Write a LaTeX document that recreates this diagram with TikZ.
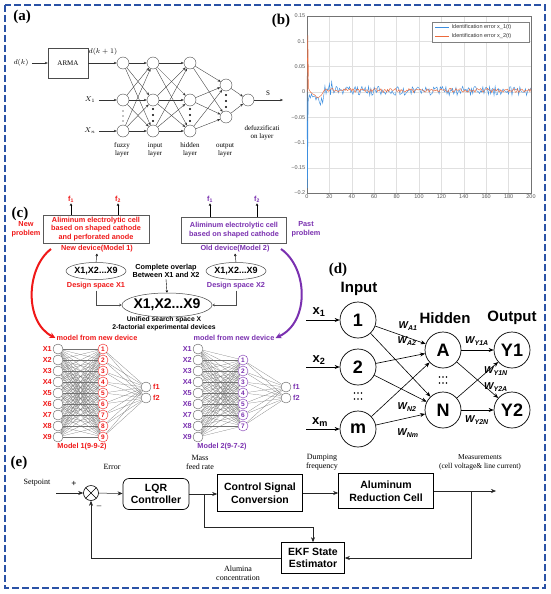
\documentclass[tikz,border=0pt]{standalone}
\usepackage{fontspec}
\setmainfont{Liberation Serif}
\setsansfont{Liberation Sans}
\newfontfamily\lsans{Liberation Sans}
\usetikzlibrary{arrows.meta,shapes.geometric,calc}
\definecolor{myred}{HTML}{F01818}
\definecolor{mypurple}{HTML}{7A30B0}
\definecolor{borderblue}{HTML}{2A52A6}
\definecolor{plotblue}{HTML}{3D8FE0}
\definecolor{plotorange}{HTML}{EC6A3C}
\newcommand{\fsz}[2]{\fontsize{#1}{#2}\selectfont}
\begin{document}
\begin{tikzpicture}[x=1pt,y=-1pt,
  aedge/.style={-{Stealth[length=3pt,width=2.4pt]}, line width=0.35pt, black!80},
  acirc/.style={circle, draw=black!70, line width=0.4pt, minimum size=12pt, inner sep=0pt},
  atext/.style={font=\fsz{7}{8}, align=center},
  plab/.style={font=\bfseries\fsz{15}{16}},
  ticklab/.style={font=\lsans\fsz{5.5}{6}, text=black!65, inner sep=1.5pt},
  ctext/.style={font=\sffamily\bfseries\fsz{7.3}{8.5}, align=center, inner sep=1pt},
  nin/.style={circle, draw=black!70, line width=0.35pt, minimum size=10pt, inner sep=0pt},
  nhid/.style={circle, draw=#1, line width=0.4pt, minimum size=10pt, inner sep=0pt, text=#1, font=\sffamily\bfseries\fsz{6.5}{7}},
  nedge/.style={black!55, line width=0.2pt},
  smallarr/.style={-{Stealth[length=2.5pt,width=2.5pt]}, line width=0.4pt},
  dcirc/.style={circle, draw, line width=0.7pt, minimum size=36pt, inner sep=0pt, font=\sffamily\bfseries\fsz{18}{20}},
  dedge/.style={-{Stealth[length=5pt,width=4pt]}, line width=0.6pt},
  wlab/.style={font=\sffamily\bfseries\itshape\fsz{10}{11}, inner sep=0pt},
  ebox/.style={draw, line width=0.7pt, align=center, font=\sffamily\bfseries\fsz{10.5}{12.5}},
  etext/.style={font=\fsz{8}{9}, align=center},
  earrow/.style={-{Stealth[length=5pt,width=4pt]}, line width=0.5pt, black!85}
]
\useasboundingbox (0,0) rectangle (550,594);
\fill[white] (0,0) rectangle (550,594);
% border
\draw[borderblue, line width=1.6pt, dash pattern=on 7pt off 3pt] (5,5) rectangle (545,588);

% ================= (a) =================
\node[plab] (la) at (22,17) {(a)};
\node[draw=black!70, line width=0.4pt, minimum width=40pt, minimum height=30pt, atext] (arma) at (68,63) {ARMA};
\node[atext] (dk) at (21,63) {$d(k)$};
\node[atext] (dk1) at (103,52) {$d(k+1)$};
\draw[aedge] (dk) -- (arma);
\foreach \n/\yy in {1/63,2/100,3/131} {
  \node[acirc] (af\n) at (123,\yy) {};
  \node[acirc] (ai\n) at (153,\yy) {};
  \node[acirc] (ah\n) at (190,\yy) {};
}
\node[acirc] (ao1) at (226,85) {};
\node[acirc] (ao2) at (226,117) {};
\node[acirc] (ad) at (248,100) {};
\draw[aedge] (arma) -- (af1);
\node[atext] (ax1) at (90,100) {$X_1$};
\node[atext] (axn) at (90,131) {$X_n$};
\draw[aedge] (ax1) -- (af2);
\draw[aedge] (axn) -- (af3);
\foreach \a in {1,2,3} \foreach \b in {1,2,3} {
  \draw[aedge] (af\a) -- (ai\b);
  \draw[aedge] (ai\a) -- (ah\b);
}
\foreach \a in {1,2,3} \foreach \b in {1,2} \draw[aedge] (ah\a) -- (ao\b);
\draw[aedge] (ao1) -- (ad);
\draw[aedge] (ao2) -- (ad);
\coordinate (aS) at (283,100);
\draw[aedge] (ad) -- (aS);
\node[atext] at (268,93) {S};
\foreach \yy in {111,116,121} \fill (123,\yy) circle (0.55);
\foreach \yy in {109,115,121} { \fill (153,\yy) circle (1.1); \fill (190,\yy) circle (1.1); }
\foreach \yy in {95,101,107} \fill (226,\yy) circle (1.1);
\node[atext] at (122,150) {fuzzy\\layer};
\node[atext] at (155,150) {input\\layer};
\node[atext] at (190,150) {hidden\\layer};
\node[atext] at (225,150) {output\\layer};
\node[atext] at (262,133) {defuzzificati\\on layer};

% ================= (b) =================
\node[plab] (lb) at (281,21) {(b)};
\begin{scope}[shift={(307pt,-91.9pt)}, x=1.12pt, y=505.7pt]
  \foreach \t in {20,40,...,180} \draw[black!12, line width=0.3pt] (\t,-0.2) -- (\t,0.15);
  \foreach \v in {-0.15,-0.1,-0.05,0,0.05,0.1} \draw[black!12, line width=0.3pt] (0,\v) -- (200,\v);
  \draw[black!55, line width=0.4pt] (0,-0.2) rectangle (200,0.15);
  \foreach \t in {0,20,...,200} \node[ticklab, anchor=north] at (\t,-0.2) {\t};
  \foreach \v/\l in {0.15/0.15,0.1/0.1,0.05/0.05,0/0,-0.05/−0.05,-0.1/−0.1,-0.15/−0.15,-0.2/−0.2}
    \node[ticklab, anchor=east] at (0,\v) {\l};
  \pgfmathsetseed{7}
  \draw[plotblue, line width=0.45pt] (0,0) -- (0.4,-0.19) -- (1,-0.02) -- (2,-0.006) -- (3,-0.012) -- (4,-0.004) -- (5,-0.01) -- (7,-0.008) -- (8,-0.016) -- (9,-0.01) -- (10,-0.012) -- (11,-0.02) -- (12,-0.026) -- (13,-0.012) -- (14,-0.022) -- (15,-0.006) -- (16,0.012) -- (17,-0.004) -- (18,0.006) -- (19,0.004) -- (20,0.016) -- (21,-0.006) -- (22,0.02)
    -- plot[domain=23:200, samples=178] (\x,{0.009*rand+0.002});
  \draw[plotorange, line width=0.45pt] (0,0) -- (0.7,0.112) -- (1.5,0.006) -- (3,0) -- (5,-0.004) -- (7,-0.006) -- (9,-0.012) -- (11,-0.01) -- (13,-0.006) -- (15,0.002) -- (17,0.006) -- (19,0.001) -- (21,0.005)
    -- plot[domain=22:200, samples=179] (\x,{0.004*rand+0.003});
\end{scope}
\draw[fill=white, draw=black!50, line width=0.3pt] (432,22) rectangle (529,42);
\draw[plotblue, line width=0.5pt] (435,27.5) -- (449,27.5);
\draw[plotorange, line width=0.5pt] (435,36) -- (449,36);
\node[ticklab, text=black!80, anchor=west] at (450,27.5) {Identification error x\_1(t)};
\node[ticklab, text=black!80, anchor=west] at (450,36) {Identification error x\_2(t)};

% ================= (c) =================
\node[plab] (lc) at (20,214) {(c)};
\node[draw=black!65, line width=0.6pt, minimum width=106pt, minimum height=28pt, text=myred, ctext] (rbox) at (96,229) {Aliminum electrolytic cell\\based on shaped cathode\\and perforated anode};
\node[draw=black!65, line width=0.6pt, minimum width=105pt, minimum height=26pt, text=mypurple, ctext] (pbox) at (234,230) {Aliminum electrolytic cell\\based on shaped cathode};
\node[ctext, text=myred] (rf1) at (71,199) {f\textsubscript{1}};
\node[ctext, text=myred] (rf2) at (118,199) {f\textsubscript{2}};
\node[ctext, text=mypurple] (pf1) at (210,199) {f\textsubscript{1}};
\node[ctext, text=mypurple] (pf2) at (257,199) {f\textsubscript{2}};
\draw[smallarr] (rbox.north -| rf1) -- (rf1.south);
\draw[smallarr] (rbox.north -| rf2) -- (rf2.south);
\draw[smallarr] (pbox.north -| pf1) -- (pf1.south);
\draw[smallarr] (pbox.north -| pf2) -- (pf2.south);
\node[ctext, text=myred] at (26,229) {New\\problem};
\node[ctext, text=mypurple] at (306,229) {Past\\problem};
\node[ctext, text=myred] (nd) at (97,249) {New device(Model 1)};
\node[ctext, text=mypurple] (od) at (235,249) {Old device(Model 2)};
\node[ellipse, draw=black!70, line width=0.5pt, minimum width=60pt, minimum height=17pt, inner sep=0pt] (e1) at (96,271) {};
\node[font=\sffamily\bfseries\fsz{9}{9}] at (e1) {X1,X2...X9};
\node[ellipse, draw=black!70, line width=0.5pt, minimum width=60pt, minimum height=17pt, inner sep=0pt] (e2) at (236,271) {};
\node[font=\sffamily\bfseries\fsz{9}{9}] at (e2) {X1,X2...X9};
\draw[smallarr] (e1.north) -- (nd.south);
\draw[smallarr] (e2.north) -- (od.south);
\node[ctext, text=myred] (ds1) at (96,286) {Design space X1};
\node[ctext, text=mypurple] (ds2) at (236,286) {Design space X2};
\node[ctext] (ovl) at (166,271) {Complete overlap\\Between X1 and X2};
\node[ellipse, draw=black!70, line width=0.5pt, minimum width=90pt, minimum height=24pt, inner sep=0pt] (big) at (167,305) {};
\node[font=\sffamily\bfseries\fsz{14}{14}] at (big) {X1,X2...X9};
\draw[smallarr] (ovl.south) -- (big.north);
\draw[smallarr, black!70] (ds1.south) |- (big.west);
\draw[smallarr, black!70] (ds2.south) |- (big.east);
\node[ctext, font=\sffamily\bfseries\fsz{6.8}{8}] at (164,324) {Unified search space X\\2-factorial experimental devices};
% curved arrows
\coordinate (rstart) at (51,249);
\coordinate (pstart) at (281,249);
\node[ctext, text=myred] (mr) at (97,338) {model from new device};
\node[ctext, text=mypurple] (mp) at (234,338) {model from new device};
\draw[myred, line width=2pt, -{Stealth[length=6pt,width=6pt]}] (rstart) .. controls (26,268) and (24,322) .. (mr.west);
\draw[mypurple, line width=2pt, -{Stealth[length=6pt,width=6pt]}] (pstart) .. controls (308,268) and (310,322) .. (mp.east);
% left network
\foreach \i [evaluate=\i as \yy using {349+(\i-1)*11}] in {1,...,9} {
  \node[nin] (Li\i) at (58,\yy) {};
  \node[ctext, text=myred, anchor=east] at (53,\yy) {X\i};
  \node[nhid=myred] (Lh\i) at (103,\yy) {\i};
}
\node[nin] (Lo1) at (146,387) {};
\node[nin] (Lo2) at (146,398) {};
\node[ctext, text=myred, anchor=west] at (152,387) {f1};
\node[ctext, text=myred, anchor=west] at (152,398) {f2};
\foreach \i in {1,...,9} {
  \foreach \j in {1,...,9} \draw[nedge] (Li\i) -- (Lh\j);
  \draw[nedge] (Lh\i) -- (Lo1);
  \draw[nedge] (Lh\i) -- (Lo2);
}
\node[ctext, text=myred] at (82,447) {Model 1(9-9-2)};
% right network
\foreach \i [evaluate=\i as \yy using {349+(\i-1)*11}] in {1,...,9} {
  \node[nin] (Ri\i) at (198,\yy) {};
  \node[ctext, text=mypurple, anchor=east] at (193,\yy) {X\i};
}
\foreach \j [evaluate=\j as \yy using {360+(\j-1)*11}] in {1,...,7} {
  \node[nhid=mypurple] (Rh\j) at (243,\yy) {\j};
}
\node[nin] (Ro1) at (286,387) {};
\node[nin] (Ro2) at (286,398) {};
\node[ctext, text=mypurple, anchor=west] at (292,387) {f1};
\node[ctext, text=mypurple, anchor=west] at (292,398) {f2};
\foreach \i in {1,...,9} \foreach \j in {1,...,7} \draw[nedge] (Ri\i) -- (Rh\j);
\foreach \j in {1,...,7} { \draw[nedge] (Rh\j) -- (Ro1); \draw[nedge] (Rh\j) -- (Ro2); }
\node[ctext, text=mypurple] at (222,447) {Model 2(9-7-2)};

% ================= (d) =================
\node[plab] (ld) at (338,270) {(d)};
\node[font=\sffamily\bfseries\fsz{15}{15}] at (359,289) {Input};
\node[font=\sffamily\bfseries\fsz{15}{15}] at (445,318) {Hidden};
\node[font=\sffamily\bfseries\fsz{15}{15}] at (512,318) {Output};
\node[dcirc] (d1) at (358,320) {1};
\node[dcirc] (d2) at (358,367) {2};
\node[dcirc] (dm) at (358,429) {m};
\node[dcirc] (dA) at (443,350) {A};
\node[dcirc] (dN) at (443,410) {N};
\node[dcirc] (dY1) at (512,350) {Y1};
\node[dcirc] (dY2) at (512,410) {Y2};
\foreach \xx in {-3.5,0,3.5} {
  \fill (358+\xx,393) circle (0.9); \fill (358+\xx,399) circle (0.9);
  \fill (443+\xx,377) circle (0.9); \fill (443+\xx,383) circle (0.9);
}
\node[font=\sffamily\bfseries\fsz{13}{14}] (x1) at (319,312) {x\textsubscript{1}};
\node[font=\sffamily\bfseries\fsz{13}{14}] (x2) at (319,360) {x\textsubscript{2}};
\node[font=\sffamily\bfseries\fsz{13}{14}] (xm) at (320,422) {x\textsubscript{m}};
\coordinate (x1s) at (306,320);
\coordinate (x2s) at (306,367);
\coordinate (xms) at (306,429);
\draw[dedge] (x1s) -- (d1);
\draw[dedge] (x2s) -- (d2);
\draw[dedge] (xms) -- (dm);
\foreach \s in {d1,d2,dm} \foreach \t in {dA,dN} \draw[dedge] (\s) -- (\t);
\foreach \s in {dA,dN} \foreach \t in {dY1,dY2} \draw[dedge] (\s) -- (\t);
\node[wlab] at (408,326) {W\textsubscript{A1}};
\node[wlab] at (407,341) {W\textsubscript{A2}};
\node[wlab] at (407,407) {W\textsubscript{N2}};
\node[wlab] at (408,433) {W\textsubscript{Nm}};
\node[wlab] at (477,341) {W\textsubscript{Y1A}};
\node[wlab] at (496,371) {W\textsubscript{Y1N}};
\node[wlab] at (496,387) {W\textsubscript{Y2A}};
\node[wlab] at (477,420) {W\textsubscript{Y2N}};

% ================= (e) =================
\node[plab] (le) at (19,463) {(e)};
\node[circle, draw, line width=0.6pt, minimum size=15pt, inner sep=0pt] (sum) at (91,493) {};
\draw[line width=0.6pt] ($(sum.center)+(-5.3,-5.3)$) -- ($(sum.center)+(5.3,5.3)$);
\draw[line width=0.6pt] ($(sum.center)+(-5.3,5.3)$) -- ($(sum.center)+(5.3,-5.3)$);
\node[etext] at (37,483) {Setpoint};
\node[font=\bfseries\fsz{9}{9}] at (74,484) {+};
\node[font=\fsz{9}{9}] at (99,507) {--};
\node[etext] at (112,467) {Error};
\coordinate (spin) at (56,493);
\draw[earrow] (spin) -- (sum);
\node[ebox, rounded corners=6pt, minimum width=66pt, minimum height=31pt] (lqr) at (156,494) {LQR\\Controller};
\node[ebox, minimum width=85pt, minimum height=37pt] (csc) at (260,493) {Control Signal\\Conversion};
\node[ebox, minimum width=95pt, minimum height=35pt] (arc) at (386,491) {Aluminum\\Reduction Cell};
\node[ebox, minimum width=63pt, minimum height=31pt] (ekf) at (313,558) {EKF State\\Estimator};
\draw[earrow] (sum) -- (lqr);
\draw[earrow] (lqr.east) -- (lqr.east -| csc.west);
\draw[earrow] (csc.east) -- (csc.east -| arc.west);
\coordinate (mend) at (496,491);
\draw[earrow] (arc.east) -- (mend);
\coordinate (b1) at (204,494);
\coordinate (k1) at (313,527);
\draw[earrow] (b1) |- (k1) -- (ekf.north);
\coordinate (b2) at (471,491);
\draw[earrow] (b2) |- (ekf.east);
\draw[earrow] (ekf.west) -| (sum.south);
\node[etext] at (200,462) {Mass\\feed rate};
\node[etext] at (322,462) {Dumping\\frequency};
\node[etext, font=\fsz{7.5}{9}] at (480,462) {Measurements\\(cell voltage\& line current)};
\node[etext] at (238,573) {Alumina\\concentration};
\end{tikzpicture}
\end{document}
